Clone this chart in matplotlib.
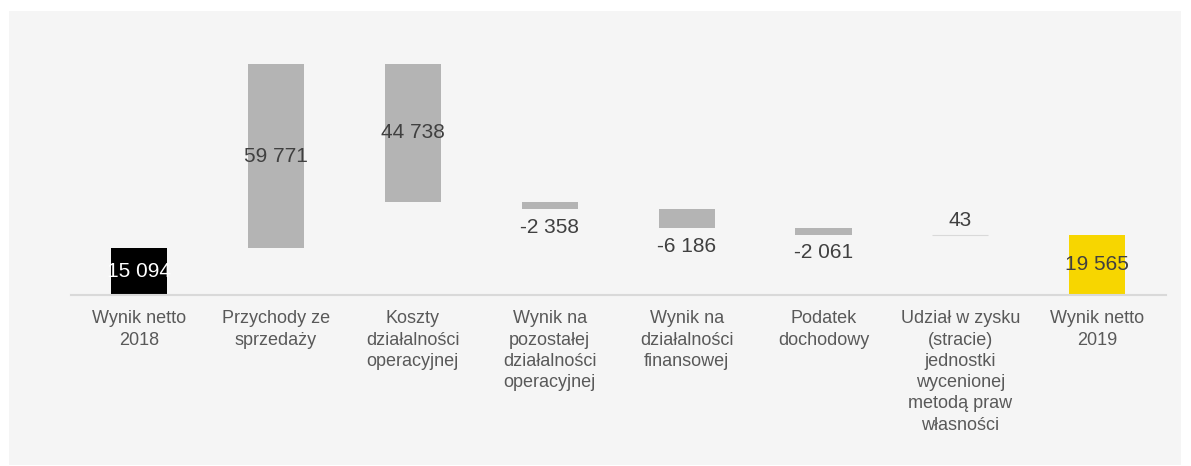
''' plot.py
Waterfall chart: wynik netto 2018 -> 2019.
'''

import matplotlib
matplotlib.use('Agg')
import matplotlib.pyplot as plt
from matplotlib.patches import Rectangle
import numpy as np

categories = ['Wynik netto\n2018', 'Przychody ze\nsprzedaży',
              'Koszty\ndziałalności\noperacyjnej',
              'Wynik na\npozostałej\ndziałalności\noperacyjnej',
              'Wynik na\ndziałalności\nfinansowej', 'Podatek\ndochodowy',
              'Udział w zysku\n(stracie)\njednostki\nwycenionej\nmetodą praw\nwłasności',
              'Wynik netto\n2019']
values = [15094, 59771, -44738, -2358, -6186, -2061, 43, 19565]
is_total = [True, False, False, False, False, False, False, True]
# labels as printed on the chart (costs shown without sign)
value_labels = ['15 094', '59 771', '44 738', '-2 358', '-6 186', '-2 061',
                '43', '19 565']

# style per bar
bar_colors = ['#000000', '#b4b4b4', '#b4b4b4', '#b4b4b4', '#b4b4b4',
              '#b4b4b4', '#b4b4b4', '#f7d600']
label_colors = ['white', '#404040', '#404040', '#404040', '#404040',
                '#404040', '#404040', '#404040']
label_place = ['center', 'center', 'center', 'below', 'below', 'below',
               'above', 'center']

plt.rcParams['font.family'] = ['Liberation Sans', 'DejaVu Sans']

fig = plt.figure(figsize=(11.91, 4.66), dpi=100)
fig.patch.set_facecolor('white')
fig.patches.append(Rectangle((9 / 1191, 1 / 466), 1172 / 1191, 454 / 466,
                             transform=fig.transFigure, facecolor='#f5f5f5',
                             edgecolor='none', zorder=-10))

ax = fig.add_axes([0.0593, 0.367, 0.9194, 0.530])
ax.set_facecolor('none')

# running totals for the floating bars
bottoms, heights = [], []
running = 0
for v, tot in zip(values, is_total):
    if tot:
        bottoms.append(0)
        heights.append(v)
        running = v
    else:
        bottoms.append(min(running, running + v))
        heights.append(abs(v))
        running += v

x = np.arange(len(values))
bars = ax.bar(x, heights, bottom=bottoms, width=0.41, color=bar_colors,
              zorder=2)
# the tiny "43" step shows only as a thin line
bars[6].set_edgecolor('#d9d9d9')
bars[6].set_facecolor('#d9d9d9')
bars[6].set_linewidth(0.8)

for xi, b, h, txt, col, place in zip(x, bottoms, heights, value_labels,
                                      label_colors, label_place):
    if place == 'center':
        ax.text(xi, b + h / 2, txt, ha='center', va='center', color=col,
                fontsize=15)
    elif place == 'below':
        ax.annotate(txt, (xi, b), xytext=(0, -6), textcoords='offset points',
                    ha='center', va='top', color=col, fontsize=15)
    else:
        ax.annotate(txt, (xi, b + h), xytext=(0, 3),
                    textcoords='offset points', ha='center', va='bottom',
                    color=col, fontsize=15)

ax.set_xlim(-0.5, len(values) - 0.5)
ax.set_ylim(0, 80000)
ax.set_yticks([])
ax.set_xticks(x)
ax.set_xticklabels(categories, fontsize=13, color='#595959',
                   linespacing=1.33)
ax.tick_params(axis='x', length=0, pad=11)
for s in ['top', 'left', 'right']:
    ax.spines[s].set_visible(False)
ax.spines['bottom'].set_color('#d9d9d9')
ax.spines['bottom'].set_linewidth(1.5)

plt.savefig('out.png', dpi=100)
plt.close('all')
